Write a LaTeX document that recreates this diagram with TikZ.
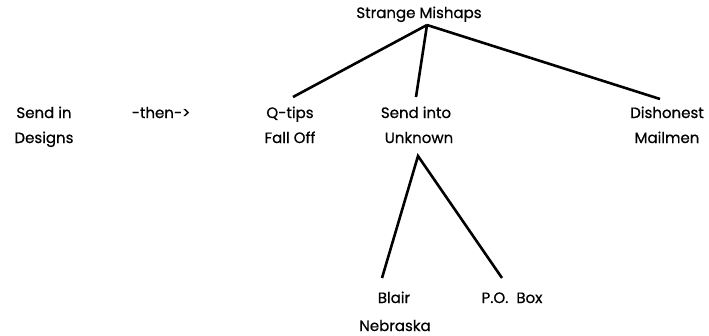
\documentclass[tikz,border=0pt]{standalone}
\usepackage{fontspec}
\setmainfont{Poppins}
\newfontfamily\lblfont{Poppins}[FakeBold=0.6]
\begin{document}
\begin{tikzpicture}[x=1pt,y=-1pt,
  lbl/.style={anchor=base,inner sep=0pt,font=\lblfont\fontsize{15}{18}\selectfont},
  link/.style={line width=2.6pt}]
\useasboundingbox (0,0) rectangle (709,335);
\node[lbl] (sm) at (419,18) {Strange Mishaps};
\node[lbl] (sd1) at (44,118) {Send in};
\node[lbl] (sd2) at (44,143) {Designs};
\node[lbl] (then) at (161,118) {-then->};
\node[lbl] (qt1) at (290,118) {Q-tips};
\node[lbl] (qt2) at (290,143) {Fall Off};
\node[lbl] (su1) at (416,118) {Send into};
\node[lbl] (su2) at (419,143) {Unknown};
\node[lbl] (dm1) at (667,118) {Dishonest};
\node[lbl] (dm2) at (667,143) {Mailmen};
\node[lbl] (bn1) at (394,303) {Blair};
\node[lbl] (bn2) at (395,331) {Nebraska};
\node[lbl] (po) at (512,303) {P.O.\ \ Box};
\coordinate (top) at (427,25);
\coordinate (qtEnd) at (293,97);
\coordinate (suEnd) at (416,97);
\coordinate (dmEnd) at (660,99);
\coordinate (low) at (418,156);
\coordinate (bnEnd) at (382,278);
\coordinate (poEnd) at (502,278);
\draw[link] (top) -- (qtEnd);
\draw[link] (top) -- (suEnd);
\draw[link] (top) -- (dmEnd);
\draw[link,line join=miter] (bnEnd) -- (low) -- (poEnd);
\end{tikzpicture}
\end{document}
